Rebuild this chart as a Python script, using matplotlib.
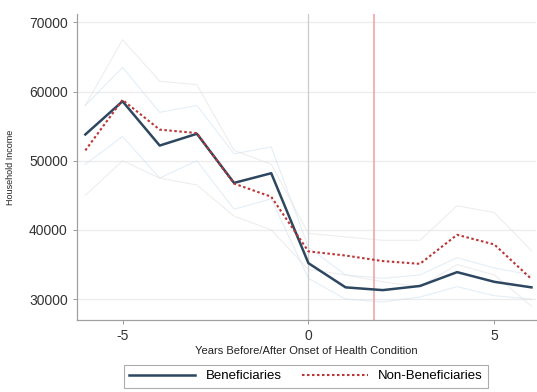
import matplotlib
matplotlib.use("Agg")
import matplotlib.pyplot as plt

years = [-6, -5, -4, -3, -2, -1, 0, 1, 2, 3, 4, 5, 6]
benef = [53800, 58600, 52200, 53900, 46800, 48200, 35200, 31700, 31300, 31900, 33900, 32500, 31700]
nonbenef = [51500, 58800, 54500, 54000, 46700, 44800, 36900, 36300, 35500, 35100, 39300, 37900, 32900]

# faint confidence bounds
benef_hi = [58000, 63500, 57000, 58000, 51000, 52000, 37500, 33500, 33000, 33500, 36000, 34500, 33500]
benef_lo = [49500, 53500, 47500, 50000, 43000, 44500, 33000, 30000, 29600, 30300, 31800, 30500, 30000]
nonb_hi = [58000, 67500, 61500, 61000, 51500, 49500, 39500, 39000, 38500, 38500, 43500, 42500, 37000]
nonb_lo = [45000, 50000, 47500, 46500, 42000, 40000, 34300, 33500, 32500, 31800, 35000, 33500, 29000]

onset_line = 0
policy_line = 1.76

plt.rcParams['font.family'] = ['Liberation Sans', 'DejaVu Sans']
plt.rcParams['axes.unicode_minus'] = False

fig = plt.figure(figsize=(5.37, 3.92), dpi=100)
ax = fig.add_axes([0.143, 0.184, 0.855, 0.78])

for s in (benef_hi, benef_lo):
    ax.plot(years, s, color='#c9def0', lw=0.8, alpha=0.5)
for s in (nonb_hi, nonb_lo):
    ax.plot(years, s, color='#e0e0e0', lw=0.8, alpha=0.55)

ax.axvline(onset_line, color='#cccccc', lw=0.9)
ax.axvline(policy_line, color='#f2a3ab', lw=1.2)

ax.plot(years, benef, color='#2d4760', lw=1.8, label='Beneficiaries')
ax.plot(years, nonbenef, color='#bb3636', lw=1.5, ls=(0, (1.2, 1.2)), label='Non-Beneficiaries')

ax.set_xlim(-6.23, 6.12)
ax.set_ylim(27000, 71200)
ax.set_xticks([-5, 0, 5])
ax.set_yticks([30000, 40000, 50000, 60000, 70000])
ax.tick_params(labelsize=10, colors='#333333', length=3, width=0.7, color='#999999')
ax.grid(axis='y', color='#ececec', lw=0.9)
ax.set_axisbelow(True)
for side in ('top', 'right'):
    ax.spines[side].set_visible(False)
for side in ('left', 'bottom'):
    ax.spines[side].set_color('#a0a0a0')
    ax.spines[side].set_linewidth(0.9)

ax.set_xlabel('Years Before/After Onset of Health Condition', fontsize=8, color='#222222', labelpad=2)
ax.set_ylabel('Household Income', fontsize=6.5, color='#222222', labelpad=10)

leg = fig.legend(loc='center', bbox_to_anchor=(0.57, 0.04), ncol=2, fontsize=9.5,
                 handlelength=5, frameon=True, fancybox=False, edgecolor='#999999',
                 columnspacing=1.5, borderpad=0.4)
leg.get_frame().set_linewidth(0.8)

fig.savefig('out.png', dpi=100)
